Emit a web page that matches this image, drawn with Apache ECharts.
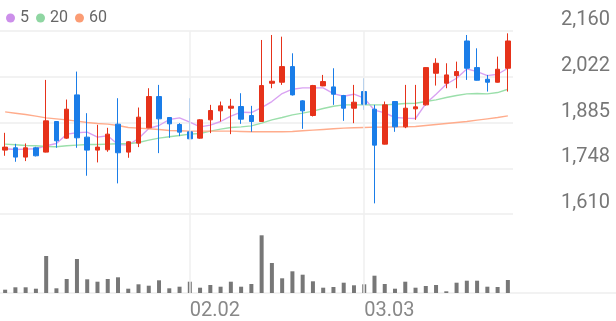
<!DOCTYPE html>
<html><head><meta charset="utf-8">
<script src="https://cdn.jsdelivr.net/npm/echarts@6/dist/echarts.min.js"></script>
<style>html,body{margin:0;padding:0;background:#fff}#c{width:616px;height:321px}</style>
</head><body><div id="c"></div>
<script>
const dates = ['01.07','01.08','01.09','01.12','01.13','01.14','01.15','01.16','01.19','01.20',
'01.21','01.22','01.23','01.26','01.27','01.28','01.29','01.30','02.02','02.03',
'02.04','02.05','02.06','02.09','02.10','02.11','02.12','02.13','02.19','02.20',
'02.23','02.24','02.25','02.26','02.27','03.03','03.04','03.05','03.06','03.09',
'03.10','03.11','03.12','03.13','03.16','03.17','03.18','03.19','03.20','03.23'];
const openV  = [1802,1809,1781,1809,1796,1888,1838,1968,1841,1802, 1803,1880,1796,1823,1869,1963,1900,1879,1857,1838,
                1893,1920,1928,1933,1906,1888,2003,2006,2053,1950, 1906,1995,1992,1966,1928,1978,1925,1820,1948,1872,
                1926,1938,2033,2003,2026,2130,2050,2015,2006,2048];
const closeV = [1811,1781,1809,1785,1890,1830,1925,1839,1802,1811, 1850,1794,1827,1901,1963,1896,1881,1856,1836,1893,
                1921,1935,1934,1895,1888,1996,2009,2053,1968,1920, 1996,2008,1970,1928,1946,1940,1817,1938,1872,1928,
                1932,2050,2063,2028,2038,2048,2012,2006,2045,2130];
const lowV   = [1785,1767,1769,1783,1795,1809,1836,1809,1725,1765, 1797,1702,1779,1811,1868,1793,1839,1844,1834,1836,
                1853,1888,1850,1881,1857,1887,1988,1998,1966,1866, 1903,1994,1938,1890,1883,1923,1642,1819,1857,1868,
                1893,1936,1996,1988,1988,2013,2011,1978,2005,1978];
const highV  = [1854,1821,1822,1812,2013,1889,1954,2038,1913,1878, 1869,1958,1829,1930,1988,1998,1901,1883,1958,1895,
                1938,1948,1956,1973,1935,2133,2148,2143,2093,1952, 1998,2028,2048,1968,1998,2018,1938,1948,1949,1998,
                1998,2051,2078,2063,2068,2148,2108,2028,2083,2153];
const ma5  = [1806,1804,1805,1806,1815,1822,1850,1854,1856,1841, 1845,1819,1817,1837,1867,1876,1894,1899,1886,1872,
              1877,1888,1904,1916,1915,1930,1948,1972,1985,1989, 1989,1989,1972,1964,1970,1958,1922,1914,1900,1898,
              1897,1942,1970,2000,2018,2046,2038,2026,2030,2048];
const ma20 = [1820,1818,1816,1815,1813,1812,1815,1817,1819,1819, 1820,1821,1821,1825,1832,1838,1842,1846,1850,1852,
              1859,1865,1870,1872,1875,1883,1893,1900,1908,1913, 1919,1927,1934,1938,1938,1938,1938,1938,1940,1942,
              1943,1948,1953,1960,1966,1971,1972,1971,1975,1985];
const ma60 = [1917,1913,1909,1904,1899,1896,1893,1889,1885,1882, 1880,1876,1870,1868,1866,1864,1861,1860,1859,1859,
              1859,1859,1859,1858,1857,1857,1857,1857,1858,1860, 1862,1864,1866,1868,1869,1870,1871,1871,1872,1872,
              1873,1876,1879,1882,1885,1888,1892,1896,1900,1905];
const volume = [33,57,57,43,370,47,140,340,137,113, 140,157,43,87,73,127,47,63,113,53,
                80,63,113,63,90,577,300,147,217,183, 117,53,60,103,77,87,173,90,43,113,
                53,70,80,17,103,123,123,63,60,130];
const yTickLabels = ['1,610','1,748','1,885','2,022','2,160'];
const labelDates = ['02.02','03.03'];
const maNames = ['5','20','60'];

const UP = '#e6321a', DOWN = '#1a7de8';
const candleData = dates.map((d,i)=>[openV[i],closeV[i],lowV[i],highV[i]]);
const volData = volume.map((v,i)=>({value:v}));

const chart = echarts.init(document.getElementById('c'), null, {renderer:'canvas'});
const vline = {
  symbol:'none', silent:true, label:{show:false},
  lineStyle:{color:'#efefef', type:'solid', width:1.5},
  data: labelDates.map(d=>({xAxis:d}))
};
chart.setOption({
  animation:false,
  textStyle:{fontFamily:'Roboto'},
  legend:{
    left:1, top:5, icon:'circle', itemWidth:9, itemHeight:9, itemGap:7,
    textStyle:{fontSize:16, color:'#666', fontFamily:'Roboto'},
    data: maNames
  },
  grid:[
    {left:0, right:103, top:31, height:183},
    {left:0, right:103, top:214, height:79},
    {left:0, right:0, top:214, height:79}
  ],
  xAxis:[
    {type:'category', data:dates, gridIndex:0, boundaryGap:true,
     axisLine:{show:false}, axisTick:{show:false}, axisLabel:{show:false}, splitLine:{show:false}},
    {type:'category', data:dates, gridIndex:1, boundaryGap:true,
     axisLine:{show:true, lineStyle:{color:'#e4e4e4', width:1}}, axisTick:{show:false},
     axisLabel:{show:true, interval:(i,v)=>labelDates.indexOf(v)>=0, align:'left', margin:8,
       fontSize:20, color:'#888', fontFamily:'Roboto'},
     splitLine:{show:false}},
    {type:'value', gridIndex:2, position:'top', min:0, max:1,
     axisLine:{show:true, lineStyle:{color:'#f2f2f2', width:2}}, axisTick:{show:false},
     axisLabel:{show:false}, splitLine:{show:false}}
  ],
  yAxis:[
    {type:'value', gridIndex:0, position:'right', min:1610, max:2160, interval:137.5, scale:true,
     axisLine:{show:false}, axisTick:{show:false},
     splitLine:{show:true, lineStyle:{color:'#f2f2f2', width:2}},
     axisLabel:{show:true, align:'right', margin:97, verticalAlign:'bottom', lineHeight:22,
       fontSize:20, color:'#777', fontFamily:'Roboto',
       formatter:(v,i)=>yTickLabels[i]}},
    {type:'value', gridIndex:1, min:0, max:790,
     axisLine:{show:false}, axisTick:{show:false}, axisLabel:{show:false}, splitLine:{show:false}},
    {type:'value', gridIndex:2, min:0, max:1, show:false}
  ],
  series:[
    {name:'5', type:'line', data:ma5, xAxisIndex:0, yAxisIndex:0, symbol:'none', smooth:false, z:2,
     itemStyle:{color:'#cc8fea'}, lineStyle:{color:'#d9a2f2', width:1.4}},
    {name:'20', type:'line', data:ma20, xAxisIndex:0, yAxisIndex:0, symbol:'none', z:2,
     itemStyle:{color:'#8fd6a2'}, lineStyle:{color:'#9bdfab', width:1.4}},
    {name:'60', type:'line', data:ma60, xAxisIndex:0, yAxisIndex:0, symbol:'none', z:2,
     itemStyle:{color:'#fb9c74'}, lineStyle:{color:'#ffac8c', width:1.4}},
    {type:'candlestick', data:candleData, xAxisIndex:0, yAxisIndex:0, barWidth:5, z:3,
     itemStyle:{color:UP, color0:DOWN, borderColor:UP, borderColor0:DOWN, borderWidth:1},
     markLine:vline},
    {type:'bar', data:volData, xAxisIndex:1, yAxisIndex:1, barWidth:4,
     itemStyle:{color:'#777'}, markLine:vline}
  ]
});
</script></body></html>
